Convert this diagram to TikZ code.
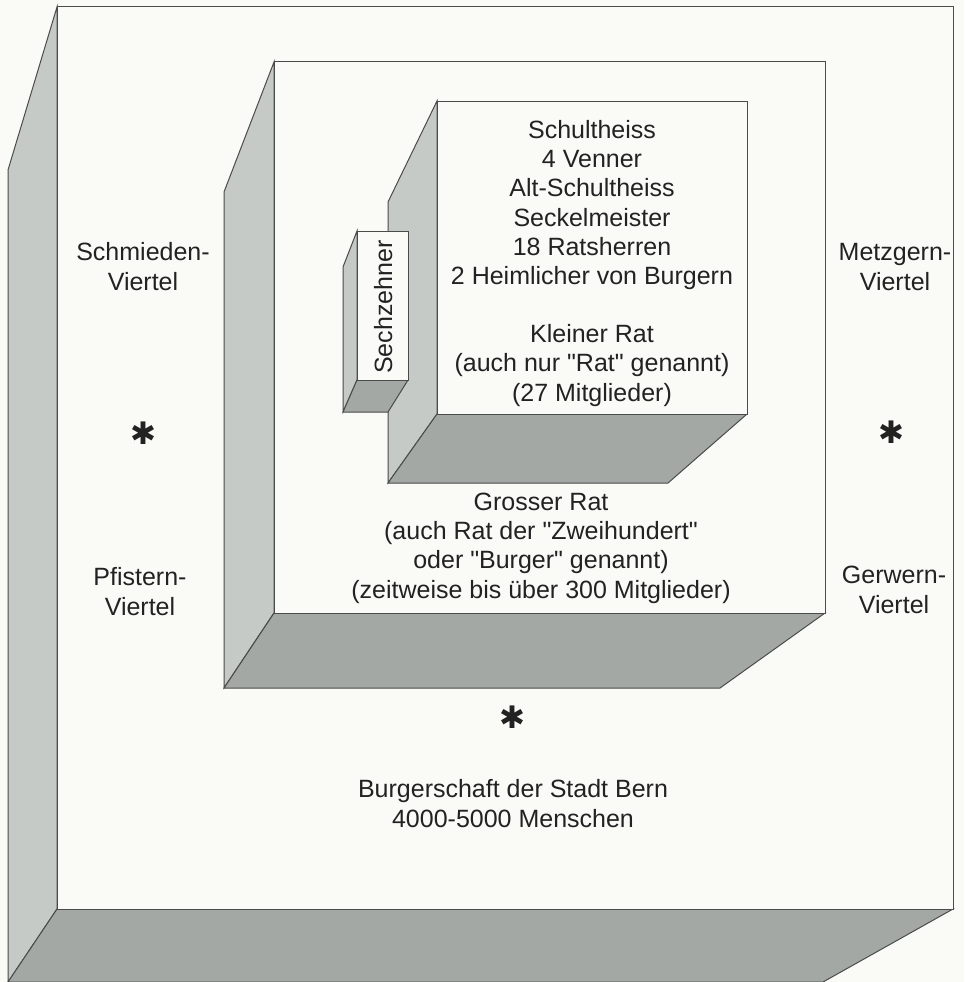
\documentclass[tikz,border=0pt]{standalone}
\usepackage{fontspec}
\setmainfont{Liberation Sans}
\newfontfamily\symfont{DejaVu Sans}
\definecolor{paper}{HTML}{FAFAF7}
\definecolor{sideface}{HTML}{C6CAC6}
\definecolor{bottomface}{HTML}{A3A8A4}
\definecolor{edge}{HTML}{4A4C4A}
\definecolor{ink}{HTML}{222222}
\newcommand{\qq}{\textquotedbl}
\begin{document}
\begin{tikzpicture}[x=1pt,y=-1pt,
  face/.style={draw=edge,line width=1pt,line join=miter},
  sidef/.style={face,fill=sideface},
  botf/.style={face,fill=bottomface},
  frontf/.style={face,fill=paper},
  lbl/.style={font=\fontsize{25}{29.2}\selectfont,text=ink,align=center,inner sep=0pt,anchor=base},
  star/.style={font=\symfont\fontsize{31}{31}\selectfont,text=ink,inner sep=0pt}]
\useasboundingbox (0,0) rectangle (964,982);
\fill[paper] (0,0) rectangle (964,982);
% outer box (Burgerschaft)
\draw[sidef] (57,7) -- (8,170) -- (8,982) -- (57,909) -- cycle;
\draw[botf] (57,909) -- (953,909) -- (823,982) -- (8,982) -- cycle;
\draw[frontf] (57,7) rectangle (953,909);
% middle box (Grosser Rat)
\draw[sidef] (274,62) -- (224,192) -- (224,688) -- (274,613) -- cycle;
\draw[botf] (274,613) -- (825,613) -- (720,688) -- (224,688) -- cycle;
\draw[frontf] (274,62) rectangle (825,613);
% inner box (Kleiner Rat)
\draw[sidef] (437,101) -- (388,202) -- (388,483) -- (437,414) -- cycle;
\draw[botf] (437,414) -- (747,414) -- (668,483) -- (388,483) -- cycle;
\draw[frontf] (437,101) rectangle (747,414);
% Sechzehner box
\draw[sidef] (357,231) -- (343,267) -- (343,412) -- (357,380) -- cycle;
\draw[botf] (357,380) -- (408,380) -- (388,412) -- (343,412) -- cycle;
\draw[frontf] (357,231) rectangle (408,380);
\node[lbl,rotate=90] (sech) at (392,307) {Sechzehner};
% texts (anchor = baseline of last line)
\node[lbl] (klein) at (592,401) {Schultheiss\\4 Venner\\Alt-Schultheiss\\Seckelmeister\\18 Ratsherren\\2 Heimlicher von Burgern\\[29pt]Kleiner Rat\\(auch nur \qq Rat\qq\ genannt)\\(27 Mitglieder)};
\node[lbl] (gross) at (541,598) {Grosser Rat\\(auch Rat der \qq Zweihundert\qq\\oder \qq Burger\qq\ genannt)\\(zeitweise bis über 300 Mitglieder)};
\node[lbl] (schmied) at (143,290) {Schmieden-\\Viertel};
\node[lbl] (metzg) at (895,290) {Metzgern-\\Viertel};
\node[lbl] (pfist) at (140,615) {Pfistern-\\Viertel};
\node[lbl] (gerw) at (894,613) {Gerwern-\\Viertel};
\node[lbl] (burg) at (513,827) {Burgerschaft der Stadt Bern\\4000-5000 Menschen};
\node[star] (s1) at (143,433) {✱};
\node[star] (s2) at (891,432) {✱};
\node[star] (s3) at (512,717) {✱};
\end{tikzpicture}
\end{document}
